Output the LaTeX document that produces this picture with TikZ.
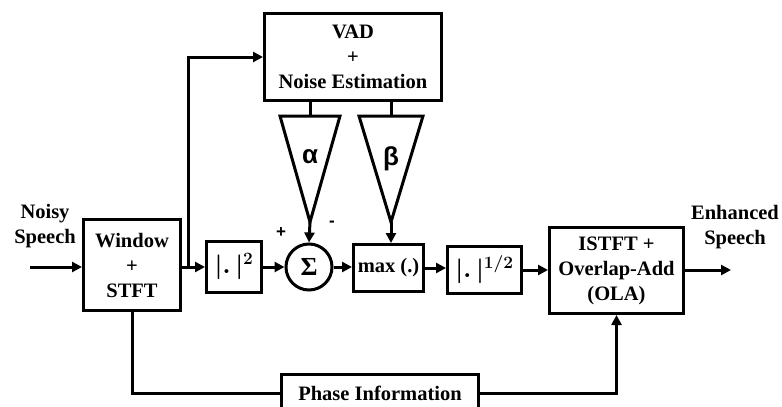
\documentclass[tikz,border=0pt]{standalone}
\usepackage{fontspec}
\setmainfont{Liberation Serif}
\newfontfamily\greekfont{Liberation Sans}
\usetikzlibrary{arrows.meta,positioning}
\begin{document}
\begin{tikzpicture}[x=1pt,y=-1pt,
  blk/.style={draw,line width=3pt,rectangle,inner sep=0pt,align=center,font=\fontsize{20.5}{25}\selectfont\bfseries},
  txt/.style={inner sep=0pt,align=center,font=\fontsize{20.5}{25}\selectfont\bfseries},
  mth/.style={font=\fontsize{26}{28}\selectfont\boldmath},
  arr/.style={line width=3pt,-{Triangle[length=10pt,width=10pt]}},
  ln/.style={line width=3pt},
  tri/.style={line width=3pt,line join=miter},
  greek/.style={font=\fontsize{26}{26}\selectfont\greekfont\bfseries}]
\useasboundingbox (0,0) rectangle (782,407);
% blocks
\node[blk,minimum width=97pt,minimum height=91pt] (win) at (132,265) {Window\\+\\STFT};
\node[blk,mth,minimum width=55pt,minimum height=51pt] (sq) at (234,267) {$|.\,|^{2}$};
\node[draw,circle,line width=3pt,minimum size=46pt,inner sep=0pt,font=\fontsize{26}{26}\selectfont\bfseries] (sum) at (309,267) {Σ};
\node[blk,minimum width=177pt,minimum height=87pt] (vad) at (353,57) {VAD\\+\\Noise Estimation};
\node[blk,minimum width=70pt,minimum height=47pt] (max) at (388.5,268) {max (.)};
\node[blk,mth,minimum width=74pt,minimum height=47pt] (sqrt) at (484.5,270) {$|.\,|^{1/2}$};
\node[blk,minimum width=134pt,minimum height=86pt] (istft) at (616.5,270.5) {ISTFT +\\Overlap-Add\\(OLA)};
\node[blk,minimum width=197pt,minimum height=38pt] (phase) at (380,393) {Phase Information};
% labels
\node[txt] (noisy) at (45,226) {Noisy\\Speech};
\node[txt] (enh) at (735,227) {Enhanced\\Speech};
\node[font=\fontsize{17}{17}\selectfont\bfseries\greekfont] (plus) at (281,233) {+};
\node[font=\fontsize{17}{17}\selectfont\bfseries\greekfont] (minus) at (332,224) {-};
% triangles (gains)
\coordinate (aT) at (310,116);
\coordinate (aA) at (310,222);
\draw[tri] (280,116) -- (340,116) -- (aA) -- cycle;
\node[greek] (alpha) at (310,157) {α};
\coordinate (bT) at (391,116);
\coordinate (bA) at (391,222);
\draw[tri] (359,116) -- (423,116) -- (bA) -- cycle;
\node[greek] (beta) at (391,159) {β};
% connectors
\coordinate (in) at (30,267);
\coordinate (br) at (188,267);
\coordinate (out) at (731,270);
\draw[arr] (in) -- (in -| win.west);
\draw[arr] (win.east |- sq) -- (sq.west);
\draw[arr] (br) |- (vad.west);
\draw[arr] (sq.east) -- (sum.west);
\draw[arr] (sum.east) -- (sum.east -| max.west);
\draw[arr] (max.east) -- (max.east -| sqrt.west);
\draw[arr] (sqrt.east) -- (sqrt.east -| istft.west);
\draw[arr] (istft.east |- out) -- (out);
\draw[ln] (aT |- vad.south) -- (aT);
\draw[ln] (bT |- vad.south) -- (bT);
\draw[arr] (aA) -- (sum.north);
\draw[arr] (bA) -- (bA |- max.north);
\draw[ln] (win.south) |- (phase.west);
\draw[arr] (phase.east) -| (istft.south);
\end{tikzpicture}
\end{document}
